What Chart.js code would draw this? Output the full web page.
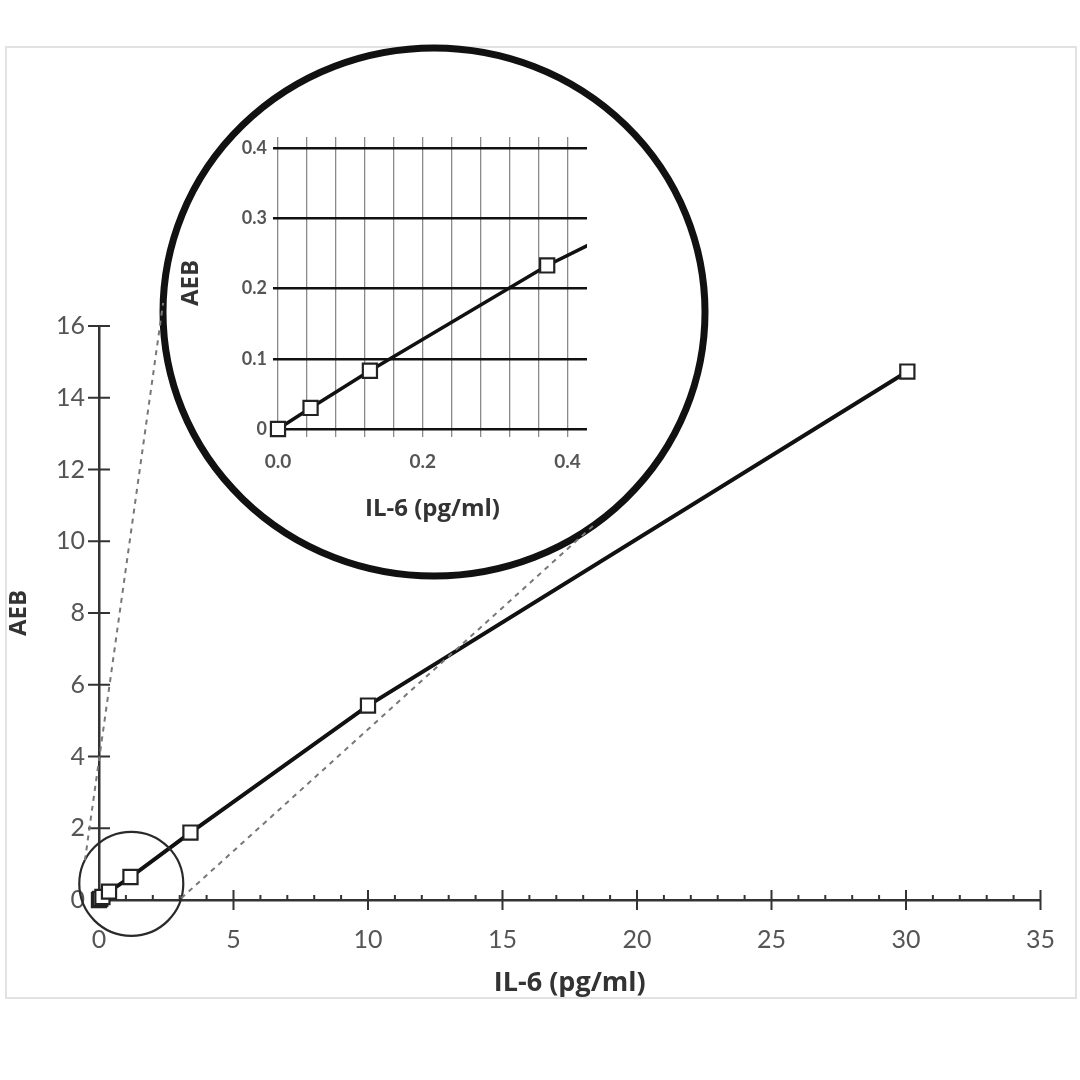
<!DOCTYPE html>
<html>
<head>
<meta charset="utf-8">
<script src="https://cdn.jsdelivr.net/npm/chart.js@4.4.1/dist/chart.umd.min.js"></script>
<style>
    html, body { margin: 0; padding: 0; background: #fff; }
    #page { position: relative; width: 1080px; height: 1080px; overflow: hidden; }
    #frame { position: absolute; left: 5px; top: 46px; width: 1068px; height: 949px; border: 2px solid #e2e2e2; }
    #mainChart { position: absolute; left: 0; top: 0; }
    #insetChart { position: absolute; left: 160px; top: 40px; }
</style>
</head>
<body>
<div id="page">
    <div id="frame"></div>
    <canvas id="mainChart" width="1080" height="1080"></canvas>
    <canvas id="insetChart" width="560" height="540"></canvas>
</div>
<script>
// 測定データ
const il6Values = [0, 0.045, 0.127, 0.372, 1.17, 3.4, 10, 30.05];
const aebValues = [0, 0.03, 0.083, 0.233, 0.64, 1.88, 5.42, 14.73];

// 目盛り
const mainXTicks = [0, 5, 10, 15, 20, 25, 30, 35];
const mainXMinorTicks = [1, 2, 3, 4, 6, 7, 8, 9, 11, 12, 13, 14, 16, 17, 18, 19, 21, 22, 23, 24, 26, 27, 28, 29, 31, 32, 33, 34];
const mainYTicks = [0, 2, 4, 6, 8, 10, 12, 14, 16];
const insetXTicks = [0, 0.04, 0.08, 0.12, 0.16, 0.2, 0.24, 0.28, 0.32, 0.36, 0.4];
const insetXLabels = [0, 0.2, 0.4];
const insetYTicks = [0, 0.1, 0.2, 0.3, 0.4];

const xTitle = 'IL-6 (pg/ml)';
const yTitle = 'AEB';
const FONT = 'Lato, "Open Sans", sans-serif';
const TITLE_FONT = '"Open Sans", Lato, sans-serif';

function points() {
    return il6Values.map((x, i) => ({ x: x, y: aebValues[i] }));
}

// 軸の目盛り線・拡大円・破線
const decorPlugin = {
    id: 'decor',
    afterDraw(chart) {
        const ctx = chart.ctx;
        const xs = chart.scales.x;
        const ys = chart.scales.y;
        const x0 = xs.getPixelForValue(0);
        const y0 = ys.getPixelForValue(0);
        ctx.save();
        ctx.strokeStyle = '#333';
        ctx.lineWidth = 2;
        ctx.beginPath();
        mainXTicks.forEach(v => {
            const px = xs.getPixelForValue(v);
            if (v > 0) { ctx.moveTo(px, y0 - 10); ctx.lineTo(px, y0 + 10); }
        });
        mainXMinorTicks.forEach(v => {
            const px = xs.getPixelForValue(v);
            ctx.moveTo(px, y0 - 5); ctx.lineTo(px, y0);
        });
        mainYTicks.forEach(v => {
            const py = ys.getPixelForValue(v);
            if (v > 0) { ctx.moveTo(x0 - 11, py); ctx.lineTo(x0 + 11, py); }
        });
        ctx.stroke();

        // 小さい円（原点付近）
        const sc = { x: xs.getPixelForValue(1.2), y: ys.getPixelForValue(0.45), rx: 52, ry: 52 };
        ctx.lineWidth = 2.2;
        ctx.strokeStyle = '#2a2a2a';
        ctx.beginPath();
        ctx.ellipse(sc.x, sc.y, sc.rx, sc.ry, 0, 0, Math.PI * 2);
        ctx.stroke();

        // 大きい円（拡大図）
        const bc = { x: 434, y: 312, rx: 271, ry: 264 };
        ctx.lineWidth = 7;
        ctx.strokeStyle = '#111';
        ctx.beginPath();
        ctx.ellipse(bc.x, bc.y, bc.rx, bc.ry, 0, 0, Math.PI * 2);
        ctx.stroke();

        // 破線
        const at = (c, deg) => ({ x: c.x + c.rx * Math.cos(deg * Math.PI / 180), y: c.y + c.ry * Math.sin(deg * Math.PI / 180) });
        ctx.strokeStyle = '#777';
        ctx.lineWidth = 2;
        ctx.setLineDash([5, 5]);
        [[207, 182], [16, 54]].forEach(([a, b]) => {
            const p = at(sc, a);
            const q = at(bc, b);
            ctx.beginPath();
            ctx.moveTo(p.x, p.y);
            ctx.lineTo(q.x, q.y);
            ctx.stroke();
        });
        ctx.restore();
    }
};

function createMainChart() {
    const ctx = document.getElementById('mainChart').getContext('2d');
    new Chart(ctx, {
        type: 'scatter',
        data: {
            datasets: [{
                data: points(),
                showLine: true,
                borderColor: '#111',
                borderWidth: 4,
                pointStyle: 'rect',
                pointRadius: 10,
                pointBorderWidth: 2.2,
                pointBorderColor: '#222',
                pointBackgroundColor: '#fff',
                clip: false
            }]
        },
        options: {
            responsive: false,
            animation: false,
            devicePixelRatio: 1,
            layout: { padding: { left: 5, top: 326, right: 20, bottom: 80 } },
            plugins: { legend: { display: false }, tooltip: { enabled: false } },
            scales: {
                x: {
                    type: 'linear', min: 0, max: 35,
                    afterBuildTicks: s => { s.ticks = mainXTicks.map(v => ({ value: v })); },
                    afterFit: s => { s.height = 100; },
                    grid: { display: false, drawTicks: false },
                    border: { display: true, color: '#333', width: 2.5 },
                    ticks: { padding: 25, color: '#555', font: { family: FONT, size: 25 }, maxRotation: 0, autoSkip: false },
                    title: { display: true, text: xTitle, color: '#333', padding: 0, font: { family: TITLE_FONT, size: 27, weight: 'bold' } }
                },
                y: {
                    type: 'linear', min: 0, max: 16,
                    afterBuildTicks: s => { s.ticks = mainYTicks.map(v => ({ value: v })); },
                    afterFit: s => { s.width = 94; },
                    grid: { display: false, drawTicks: false },
                    border: { display: true, color: '#333', width: 2.5 },
                    ticks: { padding: 14, color: '#555', font: { family: FONT, size: 25 }, autoSkip: false },
                    title: { display: true, text: yTitle, color: '#333', padding: 0, font: { family: TITLE_FONT, size: 24, weight: 'bold' } }
                }
            }
        },
        plugins: [decorPlugin]
    });
}

function createInsetChart() {
    const ctx = document.getElementById('insetChart').getContext('2d');
    new Chart(ctx, {
        type: 'scatter',
        data: {
            datasets: [{
                data: points(),
                showLine: true,
                borderColor: '#111',
                borderWidth: 3.5,
                pointStyle: 'rect',
                pointRadius: 10,
                pointBorderWidth: 2.2,
                pointBorderColor: '#222',
                pointBackgroundColor: '#fff',
                clip: { left: 14, bottom: 14, top: 0, right: 0 }
            }]
        },
        options: {
            responsive: false,
            animation: false,
            devicePixelRatio: 1,
            layout: { padding: { left: 17, top: 97, right: 133, bottom: 56 } },
            plugins: { legend: { display: false }, tooltip: { enabled: false } },
            scales: {
                x: {
                    type: 'linear', min: 0, max: 0.427,
                    afterBuildTicks: s => { s.ticks = insetXTicks.map(v => ({ value: v })); },
                    afterFit: s => { s.height = 95; },
                    grid: { color: '#8a8a8a', lineWidth: 1.3, tickLength: 8 },
                    border: { display: false },
                    ticks: {
                        padding: 13, color: '#555', autoSkip: false, maxRotation: 0,
                        font: { family: FONT, size: 19, weight: 'bold' },
                        callback: v => insetXLabels.some(l => Math.abs(l - v) < 1e-6) ? v.toFixed(1) : ''
                    },
                    title: { display: true, text: xTitle, color: '#333', padding: 0, font: { family: TITLE_FONT, size: 24, weight: 'bold' } }
                },
                y: {
                    type: 'linear', min: 0, max: 0.416,
                    afterBuildTicks: s => { s.ticks = insetYTicks.map(v => ({ value: v })); },
                    afterFit: s => { s.width = 101; },
                    grid: { color: '#111', lineWidth: 2.5, tickLength: 5 },
                    border: { display: false },
                    ticks: {
                        padding: 6, color: '#555', autoSkip: false,
                        font: { family: FONT, size: 18, weight: 'bold' },
                        callback: v => v === 0 ? '0' : v.toFixed(1)
                    },
                    title: { display: true, text: yTitle, color: '#333', padding: 0, font: { family: TITLE_FONT, size: 24, weight: 'bold' } }
                }
            }
        }
    });
}

createMainChart();
createInsetChart();
</script>
</body>
</html>
